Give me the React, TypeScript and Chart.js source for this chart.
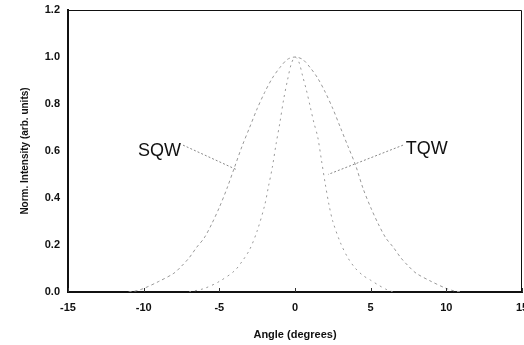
import React, { useEffect, useRef } from "react";
import { Chart, registerables } from "chart.js";

Chart.register(...registerables);

// SQW (wide curve)
const sqwAngles = [-11, -10.5, -10, -9, -8, -7.5, -7, -6.5, -6, -5.5, -5, -4.5, -4, -3.5, -3, -2.5, -2, -1.5, -1, -0.5, 0, 0.5, 1, 1.5, 2, 2.5, 3, 3.5, 4, 4.5, 5, 5.5, 6, 6.5, 7, 7.5, 8, 9, 10, 10.5, 11];
const sqwValues = [0, 0.005, 0.015, 0.045, 0.08, 0.11, 0.145, 0.19, 0.23, 0.29, 0.36, 0.44, 0.53, 0.62, 0.7, 0.78, 0.85, 0.91, 0.955, 0.99, 1.0, 0.99, 0.955, 0.91, 0.85, 0.78, 0.7, 0.62, 0.54, 0.44, 0.36, 0.29, 0.23, 0.19, 0.145, 0.11, 0.08, 0.045, 0.015, 0.005, 0];

// TQW (narrow curve)
const tqwAngles = [-7, -6, -5, -4, -3.5, -3, -2.5, -2, -1.75, -1.5, -1.25, -1, -0.75, -0.5, -0.25, 0, 0.25, 0.5, 0.75, 1, 1.25, 1.5, 1.75, 2, 2.25, 2.5, 3, 3.5, 4, 4.5, 5, 5.5, 6, 6.5];
const tqwValues = [0, 0.015, 0.045, 0.09, 0.13, 0.18, 0.26, 0.37, 0.45, 0.53, 0.63, 0.72, 0.82, 0.9, 0.97, 1.0, 0.98, 0.92, 0.86, 0.79, 0.72, 0.66, 0.56, 0.46, 0.37, 0.3, 0.21, 0.145, 0.1, 0.07, 0.05, 0.03, 0.012, 0];

const xTicks = [-15, -10, -5, 0, 5, 10, 15];
const yTicks = [0, 0.2, 0.4, 0.6, 0.8, 1.0, 1.2];

// Curve labels with leader lines (data units)
const labelNames = ["SQW", "TQW"];
const labelPos = [[-8.95, 0.6], [8.7, 0.61]];
const leaderFrom = [[-7.4, 0.625], [7.14, 0.625]];
const leaderTo = [[-3.84, 0.52], [2.18, 0.5]];

const FONT = "'Liberation Sans', Arial, sans-serif";

const framePlugin = {
  id: "frame",
  afterDraw(chart: any) {
    const { ctx, chartArea, scales } = chart;
    const xs = scales.x;
    const ys = scales.y;
    ctx.save();
    ctx.strokeStyle = "#111";
    ctx.lineWidth = 1;
    ctx.beginPath();
    ctx.moveTo(chartArea.left, chartArea.top + 0.5);
    ctx.lineTo(chartArea.right - 0.5, chartArea.top + 0.5);
    ctx.lineTo(chartArea.right - 0.5, chartArea.bottom);
    ctx.stroke();
    ctx.strokeStyle = "#333";
    xTicks.forEach((t) => {
      const px = Math.round(xs.getPixelForValue(t)) + 0.5;
      ctx.beginPath();
      ctx.moveTo(px, chartArea.bottom);
      ctx.lineTo(px, chartArea.bottom - 4);
      ctx.stroke();
    });
    ctx.font = `18px ${FONT}`;
    ctx.fillStyle = "#111";
    ctx.textAlign = "center";
    ctx.textBaseline = "middle";
    labelNames.forEach((name, i) => {
      ctx.fillText(name, xs.getPixelForValue(labelPos[i][0]), ys.getPixelForValue(labelPos[i][1]));
      ctx.strokeStyle = "#888";
      ctx.setLineDash([2, 2]);
      ctx.beginPath();
      ctx.moveTo(xs.getPixelForValue(leaderFrom[i][0]), ys.getPixelForValue(leaderFrom[i][1]));
      ctx.lineTo(xs.getPixelForValue(leaderTo[i][0]), ys.getPixelForValue(leaderTo[i][1]));
      ctx.stroke();
      ctx.setLineDash([]);
    });
    ctx.restore();
  },
};

export default function App() {
  const ref = useRef<HTMLCanvasElement | null>(null);
  useEffect(() => {
    if (!ref.current) return;
    const chart = new Chart(ref.current, {
      type: "line",
      data: {
        datasets: [
          {
            label: "SQW",
            data: sqwAngles.map((a, i) => ({ x: a, y: sqwValues[i] })),
            borderColor: "#999999",
            borderWidth: 1,
            borderDash: [3, 3],
            pointRadius: 0,
            tension: 0.3,
            fill: false,
          },
          {
            label: "TQW",
            data: tqwAngles.map((a, i) => ({ x: a, y: tqwValues[i] })),
            borderColor: "#999999",
            borderWidth: 1,
            borderDash: [2, 4],
            pointRadius: 0,
            tension: 0.3,
            fill: false,
          },
        ],
      },
      options: {
        animation: false,
        responsive: false,
        layout: { padding: { top: 10, right: 2, left: 0, bottom: 0 } },
        plugins: { legend: { display: false }, tooltip: { enabled: false } },
        scales: {
          x: {
            type: "linear",
            min: -15,
            max: 15,
            afterBuildTicks: (s: any) => {
              s.ticks = xTicks.map((v) => ({ value: v }));
            },
            afterFit: (s: any) => {
              s.height = 53;
              s.paddingLeft = 0;
              s.paddingRight = 0;
            },
            grid: { display: false, drawTicks: false },
            border: { display: true, color: "#111", width: 2 },
            ticks: {
              color: "#111",
              padding: 9,
              font: { family: FONT, size: 11, weight: "bold" },
              callback: (v: any) => String(v),
            },
            title: {
              display: true,
              text: "Angle (degrees)",
              color: "#111",
              padding: { top: 4, bottom: 3 },
              font: { family: FONT, size: 11, weight: "bold" },
            },
          },
          y: {
            type: "linear",
            min: 0,
            max: 1.2,
            afterBuildTicks: (s: any) => {
              s.ticks = yTicks.map((v) => ({ value: v }));
            },
            afterFit: (s: any) => {
              s.width = 68;
              s.paddingTop = 0;
              s.paddingBottom = 0;
            },
            grid: { display: false, drawTicks: false },
            border: { display: true, color: "#111", width: 2 },
            ticks: {
              color: "#111",
              padding: 8,
              font: { family: FONT, size: 11, weight: "bold" },
              callback: (v: any) => Number(v).toFixed(1),
            },
            title: {
              display: true,
              text: "Norm. Intensity (arb. units)",
              color: "#111",
              padding: { top: 19, bottom: 0 },
              font: { family: FONT, size: 10, weight: "bold" },
            },
          },
        },
      },
      plugins: [framePlugin],
    } as any);
    return () => chart.destroy();
  }, []);
  return (
    <div style={{ position: "fixed", left: 0, top: 0, width: 524, height: 345, background: "#fff" }}>
      <canvas ref={ref} width={524} height={345} style={{ display: "block" }} />
    </div>
  );
}
